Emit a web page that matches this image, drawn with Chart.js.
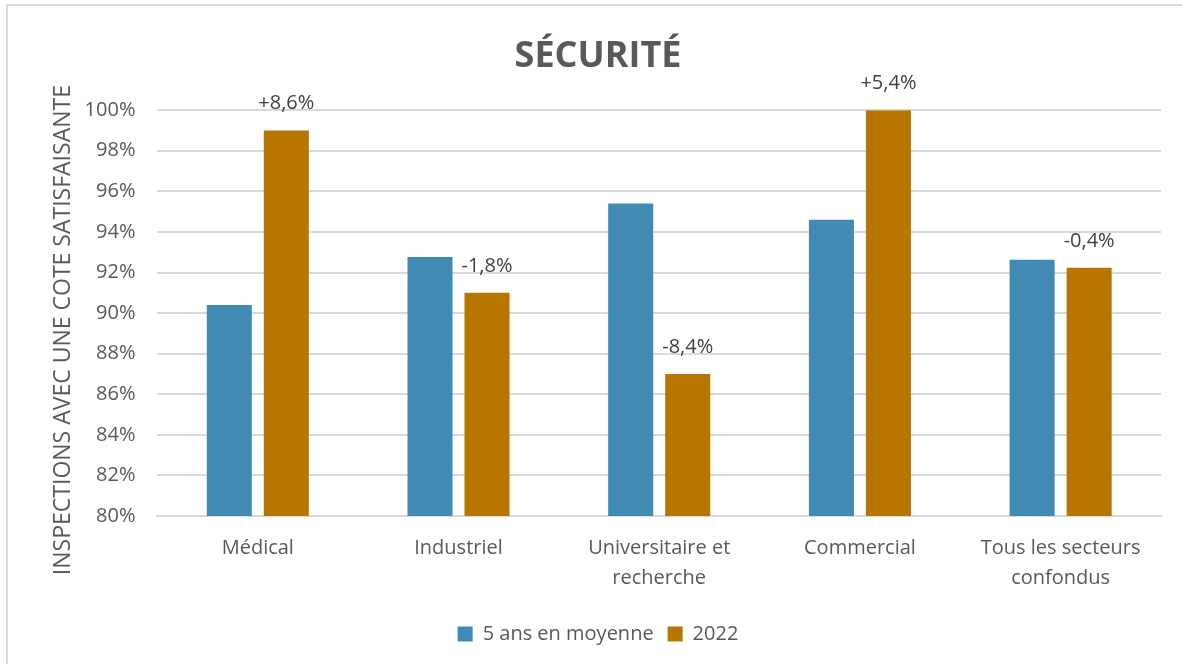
<!DOCTYPE html>
<html>
<head>
<meta charset="utf-8">
<script src="https://cdn.jsdelivr.net/npm/chart.js@4"></script>
<style>
  html, body { margin: 0; padding: 0; background: #fff; }
  #wrap { width: 1182px; height: 664px; position: relative; }
</style>
</head>
<body>
<div id="wrap"><canvas id="graficaSecurite" width="1182" height="664"></canvas></div>
<script>
// données
const categories = [
    'Médical',
    'Industriel',
    ['Universitaire et', 'recherche'],
    'Commercial',
    ['Tous les secteurs', 'confondus']
];
const moyenne5ans = [90.4, 92.76, 95.4, 94.6, 92.63];
const valeurs2022 = [99.0, 91.0, 87.0, 100.0, 92.23];
const variations = ['+8,6%', '-1,8%', '-8,4%', '+5,4%', '-0,4%'];
const yTicks = [80, 82, 84, 86, 88, 90, 92, 94, 96, 98, 100];
const titreAxeY = 'INSPECTIONS AVEC UNE COTE SATISFAISANTE';

const TEXTE = '#595959';
const POLICE = "'Open Sans', 'Liberation Sans', sans-serif";

// étiquettes de variation au-dessus des barres 2022
const etiquettesPlugin = {
    id: 'etiquettes',
    afterDatasetsDraw(chart) {
        const ctx = chart.ctx;
        const meta = chart.getDatasetMeta(1);
        ctx.save();
        ctx.font = '20px ' + POLICE;
        ctx.fillStyle = '#404040';
        ctx.textAlign = 'center';
        ctx.textBaseline = 'middle';
        meta.data.forEach((bar, i) => {
            ctx.fillText(variations[i], bar.x, bar.y - 27);
        });
        ctx.restore();
    }
};

// titre de l'axe Y, un peu plus bas que le centre de l'axe (comme l'original)
const titreYPlugin = {
    id: 'titreY',
    afterDraw(chart) {
        const ctx = chart.ctx;
        const y = chart.scales.y;
        ctx.save();
        ctx.translate(y.left + 28, (y.top + y.bottom) / 2 + 17);
        ctx.rotate(-Math.PI / 2);
        ctx.font = '23px ' + POLICE;
        ctx.fillStyle = TEXTE;
        ctx.textAlign = 'center';
        ctx.textBaseline = 'middle';
        ctx.fillText(titreAxeY, 0, 0);
        ctx.restore();
    }
};

// cadre gris (haut et gauche seulement, comme l'image d'origine)
const cadrePlugin = {
    id: 'cadre',
    beforeDraw(chart) {
        const ctx = chart.ctx;
        ctx.save();
        ctx.strokeStyle = '#d9d9d9';
        ctx.lineWidth = 2;
        ctx.beginPath();
        ctx.moveTo(7, 664);
        ctx.lineTo(7, 5);
        ctx.lineTo(1182, 5);
        ctx.stroke();
        ctx.restore();
    }
};

const ctx = document.getElementById('graficaSecurite').getContext('2d');
new Chart(ctx, {
    type: 'bar',
    data: {
        labels: categories,
        datasets: [
            {
                label: '5 ans en moyenne',
                data: moyenne5ans,
                backgroundColor: '#418AB3',
                borderWidth: 0
            },
            {
                label: '2022',
                data: valeurs2022,
                backgroundColor: '#B77600',
                borderWidth: 0
            }
        ]
    },
    options: {
        responsive: false,
        animation: false,
        datasets: { bar: { categoryPercentage: 0.568, barPercentage: 0.79 } },
        layout: { padding: { left: 35, right: 21, top: 14, bottom: 10 } },
        plugins: {
            title: {
                display: true,
                text: 'SÉCURITÉ',
                color: TEXTE,
                font: { family: POLICE, size: 36, weight: 'bold' },
                padding: { top: 21, bottom: 32 }
            },
            legend: {
                position: 'bottom',
                labels: {
                    color: TEXTE,
                    font: { family: POLICE, size: 20 },
                    boxWidth: 15,
                    boxHeight: 15,
                    padding: 14
                }
            },
            tooltip: { enabled: false }
        },
        scales: {
            x: {
                grid: { display: false, drawTicks: false },
                border: { color: '#d9d9d9', width: 2 },
                ticks: {
                    color: TEXTE,
                    font: { family: POLICE, size: 20, lineHeight: 1.5 },
                    padding: 17,
                    maxRotation: 0,
                    autoSkip: false
                }
            },
            y: {
                min: 80,
                max: 100,
                afterBuildTicks(axis) {
                    axis.ticks = yTicks.map(v => ({ value: v }));
                },
                grid: { color: '#d9d9d9', lineWidth: 2, drawTicks: false },
                border: { display: false },
                ticks: {
                    color: TEXTE,
                    font: { family: POLICE, size: 20 },
                    padding: 22,
                    callback: (v) => v + '%'
                },
                // place réservée ; le texte est dessiné par titreYPlugin
                title: {
                    display: true,
                    text: titreAxeY,
                    color: 'rgba(0,0,0,0)',
                    font: { family: POLICE, size: 23 },
                    padding: { top: 17, bottom: -17 }
                }
            }
        }
    },
    plugins: [etiquettesPlugin, titreYPlugin, cadrePlugin]
});
</script>
</body>
</html>
